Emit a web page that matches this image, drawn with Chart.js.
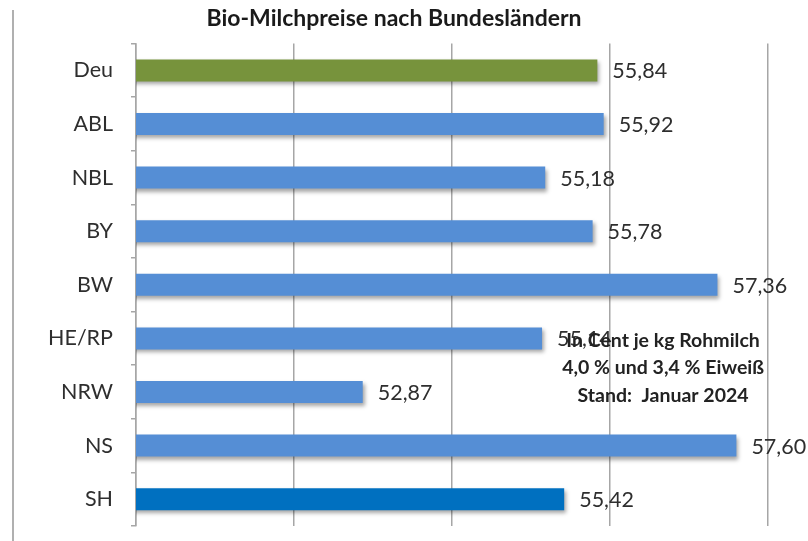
<!DOCTYPE html>
<html>
<head>
<meta charset="utf-8">
<script src="https://cdn.jsdelivr.net/npm/chart.js@4/dist/chart.umd.min.js"></script>
<style>
  html, body { margin: 0; padding: 0; background: #ffffff; }
  #wrap { width: 808px; height: 541px; position: relative; }
</style>
</head>
<body>
<div id="wrap"><canvas id="c" width="808" height="541"></canvas></div>
<script>
const categories = ["Deu", "ABL", "NBL", "BY", "BW", "HE/RP", "NRW", "NS", "SH"];
const prices = [55.84, 55.92, 55.18, 55.78, 57.36, 55.14, 52.87, 57.60, 55.42];
const barColors = ["#77933C", "#558ED5", "#558ED5", "#558ED5", "#558ED5", "#558ED5", "#558ED5", "#558ED5", "#0070C0"];
const axisMin = 50;
const axisMax = 58;
const axisStep = 2;
const chartTitle = "Bio-Milchpreise nach Bundesländern";
const noteLines = ["In Cent je kg Rohmilch", "4,0 % und 3,4 % Eiweiß", "Stand:  Januar 2024"];

const FONT = "Lato, 'Open Sans', sans-serif";
const TEXT = "#2e2e2e";

const shadowPlugin = {
  id: "barShadow",
  beforeDatasetsDraw(chart) {
    const ctx = chart.ctx;
    ctx.save();
    ctx.shadowColor = "rgba(0,0,0,0.35)";
    ctx.shadowBlur = 4;
    ctx.shadowOffsetX = 2;
    ctx.shadowOffsetY = 3;
  },
  afterDatasetsDraw(chart) {
    chart.ctx.restore();
  }
};

const framePlugin = {
  id: "frame",
  beforeDraw(chart) {
    const ctx = chart.ctx;
    ctx.save();
    ctx.fillStyle = "#ffffff";
    ctx.fillRect(0, 0, chart.width, chart.height);
    ctx.strokeStyle = "#b0b0b0";
    ctx.lineWidth = 2;
    ctx.beginPath();
    ctx.moveTo(13, 10);
    ctx.lineTo(13, chart.height);
    ctx.stroke();
    ctx.restore();
  }
};

const labelPlugin = {
  id: "valueLabels",
  afterDatasetsDraw(chart) {
    const ctx = chart.ctx;
    const meta = chart.getDatasetMeta(0);
    ctx.save();
    ctx.font = "21.5px " + FONT;
    ctx.fillStyle = TEXT;
    ctx.textAlign = "left";
    ctx.textBaseline = "middle";
    meta.data.forEach((bar, i) => {
      const txt = prices[i].toFixed(2).replace(".", ",");
      ctx.fillText(txt, bar.x + 15, bar.y + 1);
    });
    // note text
    const ca = chart.chartArea;
    const yS = chart.scales.y;
    const cx = ca.left + (ca.right - ca.left) * 0.834;
    const y0 = yS.getPixelForValue(5) + 2;
    ctx.font = "bold 19.5px " + FONT;
    ctx.fillStyle = "#222222";
    ctx.textAlign = "center";
    noteLines.forEach((l, i) => {
      ctx.fillText(l, cx, y0 + i * 27.5);
    });
    ctx.restore();
  }
};

new Chart(document.getElementById("c"), {
  type: "bar",
  data: {
    labels: categories,
    datasets: [{
      data: prices,
      backgroundColor: barColors,
      borderWidth: 0,
      barPercentage: 0.41,
      categoryPercentage: 1.0
    }]
  },
  options: {
    indexAxis: "y",
    responsive: false,
    animation: false,
    devicePixelRatio: 1,
    layout: { padding: { left: 20, right: 40, top: 0, bottom: 15 } },
    plugins: {
      legend: { display: false },
      tooltip: { enabled: false },
      title: {
        display: true,
        text: chartTitle,
        color: "#1a1a1a",
        font: { family: FONT, size: 23, weight: "bold" },
        padding: { top: 5, bottom: 11 }
      }
    },
    scales: {
      x: {
        min: axisMin,
        max: axisMax,
        afterFit(scale) { scale.height = 0; },
        ticks: { display: false, stepSize: axisStep },
        grid: { color: "#a6a6a6", lineWidth: 1.5, drawTicks: false },
        border: { display: false }
      },
      y: {
        afterFit(scale) { scale.width = 116; scale.paddingTop = 0; scale.paddingBottom = 0; },
        ticks: { color: TEXT, font: { family: FONT, size: 21.5 }, padding: 18 },
        grid: { drawOnChartArea: false, drawTicks: true, tickLength: 5, color: "#a6a6a6", lineWidth: 1.5, offset: true },
        border: { display: true, color: "#a6a6a6", width: 1.5 }
      }
    }
  },
  plugins: [framePlugin, shadowPlugin, labelPlugin]
});
</script>
</body>
</html>
